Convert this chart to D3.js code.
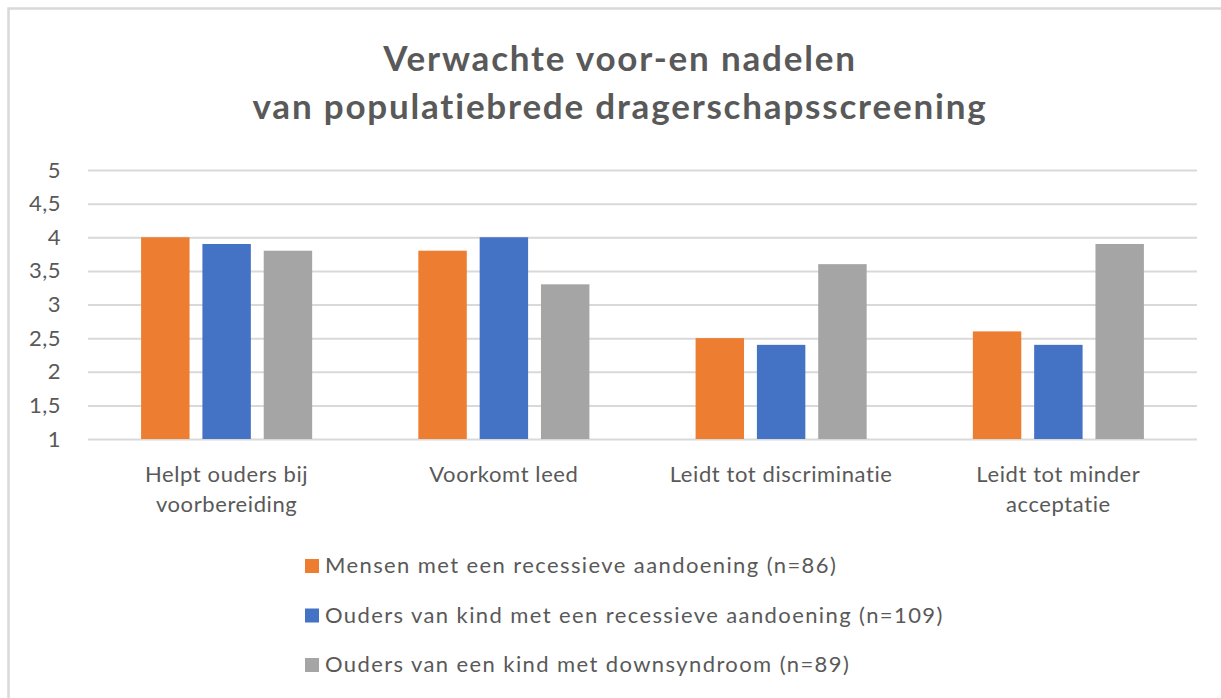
<!DOCTYPE html>
<html>
<head>
<meta charset="utf-8">
<script src="https://cdn.jsdelivr.net/npm/d3@7"></script>
<style>
  body { margin: 0; background: #fff; }
  svg { display: block; font-family: Lato, "Open Sans", sans-serif; }
</style>
</head>
<body>
<div id="chart"></div>
<script>
// data
const categories = ['Helpt ouders bij voorbereiding', 'Voorkomt leed', 'Leidt tot discriminatie', 'Leidt tot minder acceptatie'];
const seriesNames = [
  'Mensen met een recessieve aandoening (n=86)',
  'Ouders van kind met een recessieve aandoening (n=109)',
  'Ouders van een kind met downsyndroom (n=89)'
];
const mensen = [4.0, 3.8, 2.5, 2.6];
const oudersRecessief = [3.9, 4.0, 2.4, 2.4];
const oudersDown = [3.8, 3.3, 3.6, 3.9];
const yTicks = [1, 1.5, 2, 2.5, 3, 3.5, 4, 4.5, 5];
const titleLines = ['Verwachte voor-en nadelen', 'van populatiebrede dragerschapsscreening'];

const seriesValues = [mensen, oudersRecessief, oudersDown];
const colors = ['#ED7D31', '#4472C4', '#A5A5A5'];
const textColor = '#595959';

const width = 1221;
const height = 698;
const margin = { top: 170, left: 88, right: 24, bottom: 259 };

const svg = d3.select('#chart')
  .append('svg')
  .attr('width', width)
  .attr('height', height);

// frame (only top and left edges are in view)
svg.append('rect')
  .attr('x', 8.5)
  .attr('y', 8.5)
  .attr('width', width + 20)
  .attr('height', height + 20)
  .attr('fill', '#fff')
  .attr('stroke', '#d9d9d9')
  .attr('stroke-width', 2.5);

svg.append('text')
  .attr('x', 620)
  .attr('y', 71)
  .attr('text-anchor', 'middle')
  .attr('fill', textColor)
  .style('font-size', '35px')
  .style('font-weight', 'bold')
  .style('letter-spacing', '1.8px')
  .selectAll('tspan')
  .data(titleLines)
  .enter()
  .append('tspan')
  .attr('x', 620)
  .attr('dy', (d, i) => (i === 0 ? 0 : 48))
  .text((d) => d);

const x = d3.scaleBand()
  .domain(categories)
  .range([margin.left, width - margin.right])
  .paddingInner(0.383)
  .paddingOuter(0.1915);

const xInner = d3.scaleBand()
  .domain(d3.range(seriesNames.length))
  .range([0, x.bandwidth()])
  .paddingInner(0.21);

const y = d3.scaleLinear()
  .domain([1, 5])
  .range([height - margin.bottom, margin.top]);

const yAxis = svg.append('g')
  .attr('transform', `translate(${margin.left},0)`)
  .call(d3.axisLeft(y)
    .tickValues(yTicks)
    .tickSize(-(width - margin.left - margin.right))
    .tickPadding(27)
    .tickFormat((d) => String(d).replace('.', ',')));

yAxis.select('.domain').remove();
yAxis.selectAll('line').attr('stroke', '#d9d9d9').attr('stroke-width', 2);
yAxis.selectAll('text')
  .attr('fill', textColor)
  .style('font-size', '22px')
  .style('letter-spacing', '0.5px')
  .style('font-family', 'Lato, sans-serif');

const groups = svg.append('g')
  .selectAll('g')
  .data(categories)
  .enter()
  .append('g')
  .attr('transform', (d) => `translate(${x(d)},0)`);

groups.selectAll('rect')
  .data((d, i) => seriesValues.map((vals, s) => ({ s, v: vals[i] })))
  .enter()
  .append('rect')
  .attr('x', (d) => xInner(d.s))
  .attr('y', (d) => y(d.v))
  .attr('width', xInner.bandwidth())
  .attr('height', (d) => y(1) - y(d.v))
  .attr('fill', (d) => colors[d.s]);

function wrap(text, maxWidth) {
  text.each(function () {
    const t = d3.select(this);
    const words = t.text().split(/\s+/);
    const yPos = t.attr('y');
    const dy0 = parseFloat(t.attr('dy'));
    let line = [];
    let lineNo = 0;
    let tspan = t.text(null).append('tspan').attr('x', 0).attr('y', yPos).attr('dy', `${dy0}em`);
    words.forEach((w) => {
      line.push(w);
      tspan.text(line.join(' '));
      if (tspan.node().getComputedTextLength() > maxWidth && line.length > 1) {
        line.pop();
        tspan.text(line.join(' '));
        line = [w];
        lineNo += 1;
        tspan = t.append('tspan').attr('x', 0).attr('y', yPos)
          .attr('dy', `${lineNo * 1.4 + dy0}em`)
          .text(w);
      }
    });
  });
}

const xAxis = svg.append('g')
  .attr('transform', `translate(0,${y(1)})`)
  .call(d3.axisBottom(x).tickSize(0).tickPadding(27));

xAxis.select('.domain').remove();
xAxis.selectAll('text')
  .attr('fill', textColor)
  .style('font-size', '22px')
  .style('letter-spacing', '0.6px')
  .style('font-family', 'Lato, sans-serif')
  .call(wrap, 245);

const legend = svg.append('g')
  .selectAll('g')
  .data(seriesNames)
  .enter()
  .append('g')
  .attr('transform', (d, i) => `translate(305,${559 + i * 49.5})`);

legend.append('rect')
  .attr('width', 14)
  .attr('height', 14)
  .attr('fill', (d, i) => colors[i]);

legend.append('text')
  .attr('x', 20)
  .attr('y', 14)
  .attr('fill', textColor)
  .style('font-size', '22px')
  .style('letter-spacing', '1.4px')
  .text((d) => d);
</script>
</body>
</html>
